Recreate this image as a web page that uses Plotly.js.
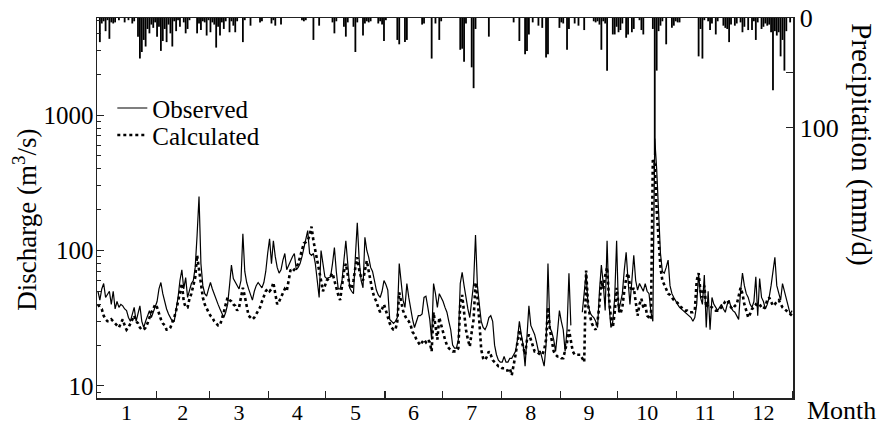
<!DOCTYPE html>
<html>
<head>
<meta charset="utf-8">
<script src="https://cdn.plot.ly/plotly-3.0.1.min.js"></script>
<style>html,body{margin:0;padding:0;background:#fff;}#chart{width:884px;height:430px;}</style>
</head>
<body>
<div id="chart"></div>
<script>
// Month labels and month lengths
var monthLabels = ["1","2","3","4","5","6","7","8","9","10","11","12"];
var monthDays = [31,28,31,30,31,30,31,31,30,31,30,31];

// Daily precipitation (mm/d), by month
var precipJan = [0,22,5,3,12,2,19,4,5,4, 0,2,0,0,4,0,2,0,5,3, 0,17,37,31,20,26,10,14,6,9, 4];
var precipFeb = [17,8,30,21,10,22,6,14,26,3, 12,2,8,0,4,14,10,2,0,0, 0,14,5,11,3,4,16,2];
var precipMar = [13,4,6,27,8,16,4,10,3,0, 13,3,7,13,3,0,0,22,2,0, 0,7,0,0,0,0,4,3,0,0, 0];
var precipApr = [0,5,2,7,0,0,6,0,0,0, 0,0,0,0,0,0,0,2,3,2, 0,0,0,20,0,0,7,0,0,0];
var precipMay = [0,0,0,4,14,3,0,0,0,8, 17,4,0,0,8,31,4,0,0,16, 5,3,4,3,0,0,0,5,3,6, 21];
var precipJun = [2,0,0,0,0,0,20,24,0,0, 22,20,0,0,0,0,0,0,0,6, 5,0,0,0,37,0,5,0,20,3];
var precipJul = [0,0,0,0,0,0,0,0,0,29, 28,40,5,0,0,45,64,10,0,0, 0,0,0,0,17,0,0,0,0,0, 0];
var precipAug = [0,0,0,0,0,0,4,0,0,21, 0,0,33,30,15,0,4,0,0,7, 0,9,0,36,33,0,0,0,0,0, 9];
var precipSep = [4,5,0,29,10,0,0,5,0,7, 0,0,11,0,0,0,0,3,4,3, 6,29,3,5,48,0,0,15,15,8];
var precipOct = [13,11,5,0,18,15,0,13,10,0, 0,2,11,15,0,0,0,0,10,125, 48,12,7,3,0,24,0,0,9,7, 3];
var precipNov = [4,4,0,0,0,0,0,0,0,0, 0,35,10,37,2,0,3,11,5,0, 15,3,0,0,7,9,10,22,6,0];
var precipDec = [7,5,0,4,13,8,0,11,0,11, 3,20,4,0,10,8,5,7,6,13, 66,12,16,13,35,20,48,12,0,4, 0];

// Observed discharge (m3/s), by month
var obsJan = [50,43,52,57,45,48,50,40,50,37, 42,38,40,39,37,36,32,30,34,38, 30,34,39,30,27,30,33,36,32,35, 38];
var obsFeb = [42,52,58,48,42,37,34,32,30,30, 36,45,60,72,52,63,45,50,57,60, 75,130,250,80,55,48,46,52];
var obsMar = [58,52,47,44,40,37,34,32,35,40, 55,78,62,58,55,52,60,133,70,58, 52,48,43,50,55,58,55,53,58,70, 95];
var obsApr = [122,80,118,90,75,68,72,85,95,72, 78,85,90,95,72,75,80,90,105,120, 140,95,92,95,80,60,45,100,80,64];
var obsMay = [62,63,64,80,105,70,52,52,60,85, 118,80,53,50,48,90,160,85,60,53, 125,100,89,75,70,60,51,47,45,50, 60];
var obsJun = [56,51,31,30,29,30,32,80,55,43, 38,57,45,36,31,27,30,33,33,34, 45,46,38,31,22,57,48,38,48,45];
var obsJul = [42,38,35,30,26,20,19,19,22,57, 69,55,43,37,32,45,57,130,55,40, 30,27,26,28,32,33,30,20,17,15.5, 15];
var obsAug = [15,16.5,15,15,16,16,17,18,22,30, 24,20,14,25,39,28,26,24,21,18, 18,16,14,20,80,27,25,22,18,25, 36];
var obsSep = [30,26,18,26,68,28,null,null,null,null, null,35,50,68,40,35,33,32,30,27, 50,78,57,36,118,40,27,30,45,118];
var obsOct = [35,40,48,71,97,60,40,60,92,60, 51,57,53,50,57,50,48,35,30,670, 400,170,95,70,68,75,85,55,48,45, 42];
var obsNov = [40,38,37,36,35,34,33,32,30,32, 40,68,45,40,66,27,50,26,45,40, 38,36,38,40,37,35,40,43,38,36];
var obsDec = [35,33,31,50,68,55,48,45,40,38, 42,64,33,62,45,42,37,40,45,55, 68,89,55,48,43,57,50,45,38,34, 36];

// Calculated discharge (m3/s), by month
var calJan = [40,38,37,33,31,30,30,31,30,29, 28,27,29,31,28,26,27,29,31,33, 30,29,27,26,26,27,29,32,35,37, 40];
var calFeb = [38,34,31,29,28,26,26,27,29,32, 36,42,50,57,42,38,38,44,48,55, 63,92,70,55,45,40,37,35];
var calMar = [33,32,30,29,28,28,31,35,40,45, 43,42,40,39,36,38,45,53,46,40, 33,32,31,32,34,36,38,42,46,50, 52];
var calApr = [50,52,58,48,40,42,45,48,52,50, 60,72,70,72,75,80,89,100,113,115, 118,130,150,118,100,85,75,60,50,55];
var calMay = [60,62,65,68,60,52,47,43,55,70, 80,65,55,52,60,75,89,72,63,60, 70,84,70,58,50,45,42,38,35,37, 40];
var calJun = [36,32,29,27,26,26,30,49,42,36, 33,31,30,28,25,24,22,21,20,21, 22,21,22,21,18,35,28,22,32,28];
var calJul = [24,22,20,19,18.5,18,18,18,19,40, 47,35,26,22,19.5,25,31,58,45,30, 18.5,16,15.5,16.5,18,17,15.5,15,14.5,14, 14];
var calAug = [13.5,13.5,13,13,13.5,12,14,17,21,26, 22,19,17,22,24,22,20,18,18,17.5, 17,17,18.5,22,38,26,21,18,17,16.5, 16.5];
var calSep = [16,16,18,21,26,22,18,17,17,17, 17,16,15,71,40,33,29,27,26,30, 40,60,52,65,75,45,32,27,35,53];
var calOct = [40,34,38,50,62,68,55,50,53,42, 33,40,44,38,40,33,32,31,465,430, 200,113,75,60,55,52,48,47,45,43, 42];
var calNov = [41,39,38,37,36,36,35,35,35,36, 60,68,50,45,55,38,40,39,38,37, 36,36,37,38,40,42,43,40,38,37];
var calDec = [39,40,45,53,48,40,36,32,34,37, 38,40,39,40,38,37,39,43,45,42, 39,40,42,43,40,38,37,36,35,34, 33];

var precip = [].concat(precipJan,precipFeb,precipMar,precipApr,precipMay,precipJun,precipJul,precipAug,precipSep,precipOct,precipNov,precipDec);
var observed = [].concat(obsJan,obsFeb,obsMar,obsApr,obsMay,obsJun,obsJul,obsAug,obsSep,obsOct,obsNov,obsDec);
var calculated = [].concat(calJan,calFeb,calMar,calApr,calMay,calJun,calJul,calAug,calSep,calOct,calNov,calDec);

var days = [];
for (var i = 0; i < precip.length; i++) days.push(i + 0.5);

var bounds = [], mids = [], acc = 0;
for (var m = 0; m < monthDays.length; m++) {
  mids.push(acc + monthDays[m] / 2);
  acc += monthDays[m];
  bounds.push(acc);
}

var FONT = "Liberation Serif, Times New Roman, serif";

var traces = [
  {x: days, y: observed, type: "scatter", mode: "lines", name: "Observed", legend: "legend",
   line: {color: "#000", width: 1.2}, connectgaps: false},
  {x: days, y: calculated, type: "scatter", mode: "lines", name: "Calculated", legend: "legend2",
   line: {color: "#000", width: 2.6, dash: "dot"}},
  {x: days, y: precip, type: "bar", yaxis: "y2", name: "Precipitation",
   marker: {color: "#000", line: {width: 0}}, showlegend: false}
];

var minorLog = [2,3,4,5,6,7,8,9,20,30,40,50,60,70,80,90,200,300,400,500,600,700,800,900,2000,3000,4000,5000];

var legendBase = {xanchor: "left", yanchor: "top", bgcolor: "rgba(0,0,0,0)",
                  font: {family: FONT, size: 25}, itemwidth: 30, tracegroupgap: 0};

var layout = {
  width: 884, height: 430,
  margin: {l: 97, r: 91, t: 18, b: 32, pad: 0},
  paper_bgcolor: "#fff", plot_bgcolor: "#fff",
  font: {family: FONT, color: "#000", size: 22},
  showlegend: true,
  legend: Object.assign({x: 0.022, y: 0.823}, legendBase),
  legend2: Object.assign({x: 0.022, y: 0.752}, legendBase),
  bargap: 0.05,
  xaxis: {range: [0, 365], tickmode: "array", tickvals: mids, ticktext: monthLabels,
          ticks: "", showgrid: false, zeroline: false, showline: true, linecolor: "#222",
          linewidth: 1.5, mirror: true, tickfont: {family: FONT, size: 22}, ticklabelstandoff: -6,
          minor: {tickmode: "array", tickvals: bounds, ticks: "inside", ticklen: 7, tickcolor: "#222", tickwidth: 1.2, showgrid: false}},
  yaxis: {type: "log", range: [0.911, 3.716], tickmode: "array", tickvals: [10, 100, 1000],
          ticktext: ["10", "100", "1000"], ticks: "inside", ticklen: 7, tickcolor: "#222",
          showgrid: false, zeroline: false, showline: true, linecolor: "#222", linewidth: 1.5,
          tickfont: {family: FONT, size: 25}, ticklabelstandoff: -3,
          minor: {tickmode: "array", tickvals: minorLog, ticks: "inside", ticklen: 4, tickcolor: "#222", showgrid: false}},
  yaxis2: {overlaying: "y", side: "right", range: [346.6, 0], tickmode: "array",
           tickvals: [0, 100], ticktext: ["0", "100"], ticks: "inside", ticklen: 7,
           tickcolor: "#222", showgrid: false, zeroline: false, showline: true, linecolor: "#222",
           linewidth: 1.5, tickfont: {family: FONT, size: 26},
           minor: {tickmode: "array", tickvals: [50], ticks: "inside", ticklen: 7, tickcolor: "#222", showgrid: false}},
  annotations: [
    {text: "Discharge (m<sup>3</sup>/s)", xref: "paper", yref: "paper", x: -0.103, y: 0.47,
     textangle: -90, showarrow: false, xanchor: "center", yanchor: "middle", font: {family: FONT, size: 27}},
    {text: "Precipitation (mm/d)", xref: "paper", yref: "paper", x: 1.098, y: 0.667,
     textangle: 90, showarrow: false, xanchor: "center", yanchor: "middle", font: {family: FONT, size: 29}},
    {text: "Month", xref: "paper", yref: "paper", x: 1.07, y: -0.034,
     showarrow: false, xanchor: "center", yanchor: "middle", font: {family: FONT, size: 26}}
  ]
};

Plotly.newPlot("chart", traces, layout, {displayModeBar: false, staticPlot: true});
</script>
</body>
</html>
